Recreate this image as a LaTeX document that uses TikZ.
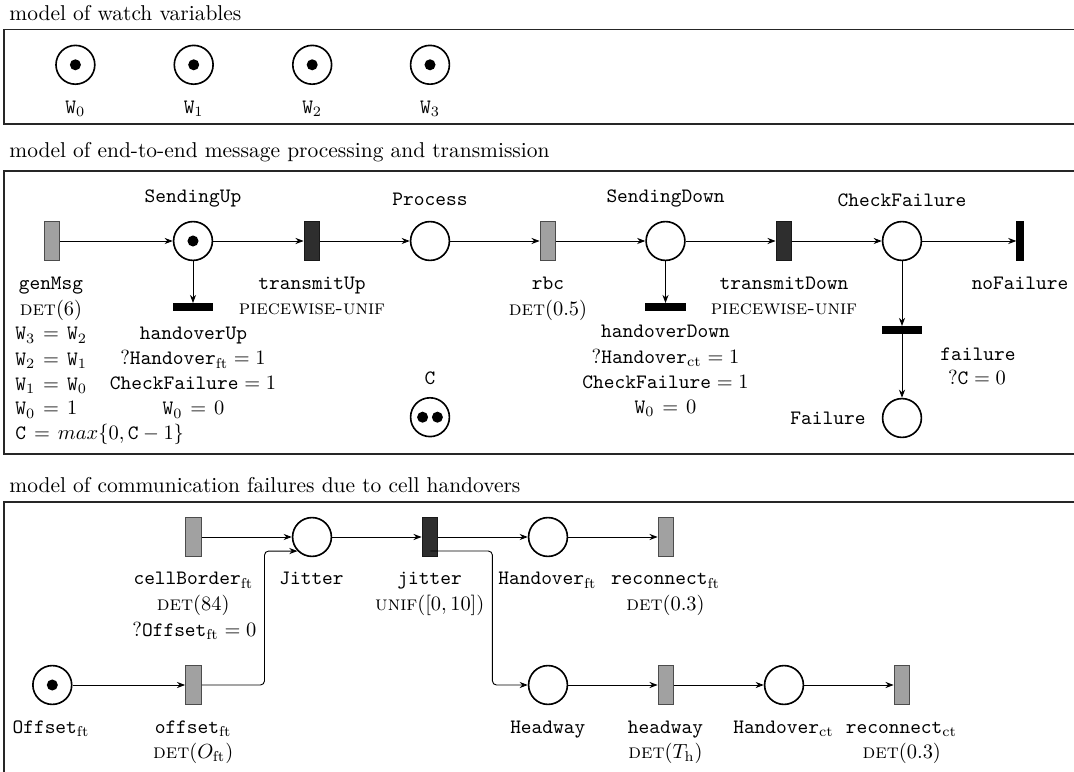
\documentclass[tikz,border=0pt]{standalone}
\usetikzlibrary{arrows.meta,calc}
\begin{document}
\begin{tikzpicture}[x=0.4895pt,y=-0.4895pt,
  place/.style={circle,draw,line width=0.8pt,minimum size=19pt,inner sep=0pt},
  tok/.style={circle,fill,inner sep=0pt,minimum size=5.4pt},
  ltrans/.style={rectangle,draw=black!70,fill=black!37,line width=0.6pt,minimum width=7.6pt,minimum height=19.3pt,inner sep=0pt},
  dtrans/.style={rectangle,draw=black!90,fill=black!82,line width=0.6pt,minimum width=7.6pt,minimum height=19.3pt,inner sep=0pt},
  itrans/.style={rectangle,draw,fill,line width=0.6pt,minimum width=3pt,minimum height=19.3pt,inner sep=0pt},
  htrans/.style={rectangle,draw,fill,line width=0.6pt,minimum width=19.3pt,minimum height=3.3pt,inner sep=0pt},
  lbl/.style={anchor=base,inner sep=0pt},
  lbw/.style={anchor=base west,inner sep=0pt},
  ttl/.style={anchor=base west,inner sep=0pt,font=\fontsize{10.5}{12.5}\selectfont},
  arr/.style={-{Stealth[length=4pt,width=3pt]},line width=0.45pt},
  frame/.style={line width=0.6pt,draw=black!85},
]
\useasboundingbox (0,0) rectangle (1074,772);

% ---------- titles and frames ----------
\node[ttl] (t1) at (9,20.5) {model of watch variables};
\node[ttl] (t2) at (9,158) {model of end-to-end message processing and transmission};
\node[ttl] (t3) at (9,492.5) {model of communication failures due to cell handovers};
\draw[frame] (1080,29.3) -- (4,29.3) -- (4,124) -- (1080,124);
\draw[frame] (1080,171) -- (4,171) -- (4,454) -- (1080,454);
\draw[frame] (1080,502) -- (4,502) -- (4,790);

% ---------- watch variables ----------
\foreach \i/\x in {0/75.4,1/193.7,2/312.2,3/430}{
  \node[place] (W\i) at (\x,64.8) {};
  \node[tok] (W\i t) at (W\i) {};
  \node[lbl] (W\i l) at (\x,113.5) {$\mathtt{W}_{\i}$};
}

% ---------- end-to-end ----------
\node[ltrans] (genMsg) at (52,241) {};
\node[place] (SendingUp) at (193,241) {};
\node[tok] (SendingUpt) at (SendingUp) {};
\node[dtrans] (transmitUp) at (312,241) {};
\node[place] (Process) at (430,241) {};
\node[ltrans] (rbc) at (548,241) {};
\node[place] (SendingDown) at (665.5,241) {};
\node[dtrans] (transmitDown) at (784,241) {};
\node[place] (CheckFailure) at (902,241) {};
\node[itrans] (noFailure) at (1020,241) {};
\node[htrans] (handoverUp) at (193,307) {};
\node[htrans] (handoverDown) at (665.5,307) {};
\node[htrans] (failure) at (902,330) {};
\node[place] (Failure) at (902,418) {};
\node[place] (C) at (430,417.2) {};
\node[tok] (Ct1) at (422.6,417.2) {};
\node[tok] (Ct2) at (437.4,417.2) {};

\draw[arr] (genMsg) -- (SendingUp);
\draw[arr] (SendingUp) -- (transmitUp);
\draw[arr] (transmitUp) -- (Process);
\draw[arr] (Process) -- (rbc);
\draw[arr] (rbc) -- (SendingDown);
\draw[arr] (SendingDown) -- (transmitDown);
\draw[arr] (transmitDown) -- (CheckFailure);
\draw[arr] (CheckFailure) -- (noFailure);
\draw[arr] (SendingUp) -- (handoverUp);
\draw[arr] (SendingDown) -- (handoverDown);
\draw[arr] (CheckFailure) -- (failure);
\draw[arr] (failure) -- (Failure);

\node[lbl] (lSendingUp) at (193,202.5) {\texttt{SendingUp}};
\node[lbl] (lProcess) at (430,206) {\texttt{Process}};
\node[lbl] (lSendingDown) at (665.5,202.3) {\texttt{SendingDown}};
\node[lbl] (lCheckFailure) at (902,206.5) {\texttt{CheckFailure}};

\node[lbl] (lgenMsg) at (51,289.3) {\texttt{genMsg}};
\node[lbl] (lgenMsgd) at (51,315.5) {\textsc{det}$(6)$};
\node[lbw] (a1) at (15,340) {$\mathtt{W}_3 \mskip2mu=\mskip2mu \mathtt{W}_2$};
\node[lbw] (a2) at (15,365.3) {$\mathtt{W}_2 \mskip2mu=\mskip2mu \mathtt{W}_1$};
\node[lbw] (a3) at (15,390.5) {$\mathtt{W}_1 \mskip2mu=\mskip2mu \mathtt{W}_0$};
\node[lbw] (a4) at (15,415) {$\mathtt{W}_0 \mskip2mu=\mskip2mu 1$};
\node[lbw] (a5) at (15,440) {$\mathtt{C} \mskip2mu=\mskip2mu max\{0, \mathtt{C}-1\}$};

\node[lbl] (ltransmitUp) at (312,289.3) {\texttt{transmitUp}};
\node[lbl] (ltransmitUpd) at (312,315) {\textsc{piecewise-unif}};
\node[lbl] (lhandoverUp) at (193.5,339.3) {\texttt{handoverUp}};
\node[lbl] (lhu2) at (193,365) {?$\mathtt{Handover}_{\mathrm{ft}} = 1$};
\node[lbl] (lhu3) at (193,390) {$\mathtt{CheckFailure} = 1$};
\node[lbl] (lhu4) at (193.5,415) {$\mathtt{W}_0 \mskip2mu=\mskip2mu 0$};

\node[lbl] (lrbc) at (548,289.3) {\texttt{rbc}};
\node[lbl] (lrbcd) at (548,315.5) {\textsc{det}$(0.5)$};
\node[lbl] (lhandoverDown) at (665.5,337.7) {\texttt{handoverDown}};
\node[lbl] (lhd2) at (665.5,363.3) {?$\mathtt{Handover}_{\mathrm{ct}} = 1$};
\node[lbl] (lhd3) at (665.5,388.3) {$\mathtt{CheckFailure} = 1$};
\node[lbl] (lhd4) at (665.5,413.3) {$\mathtt{W}_0 \mskip2mu=\mskip2mu 0$};

\node[lbl] (ltransmitDown) at (784,289.3) {\texttt{transmitDown}};
\node[lbl] (ltransmitDownd) at (784,314.5) {\textsc{piecewise-unif}};
\node[lbl] (lnoFailure) at (1020,289.3) {\texttt{noFailure}};
\node[lbl] (lfailure) at (978,360.7) {\texttt{failure}};
\node[lbl] (lfailured) at (977,385) {?$\mathtt{C} = 0$};
\node[lbl] (lFailure) at (828,424.5) {\texttt{Failure}};
\node[lbl] (lC) at (430,384.3) {\texttt{C}};

% ---------- cell handovers ----------
\node[ltrans] (cellBorder) at (193.5,537) {};
\node[place] (Jitter) at (312,537) {};
\node[dtrans] (jitter) at (430,537) {};
\node[place] (Handoverft) at (548,537) {};
\node[ltrans] (reconnectft) at (666,537) {};
\node[place] (Offsetft) at (52.3,685) {};
\node[tok] (Offsetftt) at (Offsetft) {};
\node[ltrans] (offsetft) at (193.5,685) {};
\node[place] (Headway) at (548,685) {};
\node[ltrans] (headway) at (666,685) {};
\node[place] (Handoverct) at (784,685) {};
\node[ltrans] (reconnectct) at (902,685) {};

\coordinate (c1) at (264.5,620);
\coordinate (jt) at (430.4,551);
\coordinate (c2) at (492.4,620);

\draw[arr] (cellBorder) -- (Jitter);
\draw[arr] (Jitter) -- (jitter);
\draw[arr] (jitter) -- (Handoverft);
\draw[arr] (Handoverft) -- (reconnectft);
\draw[arr] (Offsetft) -- (offsetft);
\draw[arr,rounded corners=2pt] (offsetft.east) -| (c1) |- (Jitter.224);
\draw[arr,rounded corners=2pt] (jt) -| (c2) |- (Headway.west);
\draw[arr] (Headway) -- (headway);
\draw[arr] (headway) -- (Handoverct);
\draw[arr] (Handoverct) -- (reconnectct);

\node[lbl] (lcellBorder) at (193.4,585) {\texttt{cellBorder}$_{\mathrm{ft}}$};
\node[lbl] (lcellBorderd) at (193.2,610.5) {\textsc{det}$(84)$};
\node[lbl] (lcellBordere) at (194.4,636.5) {?$\mathtt{Offset}_{\mathrm{ft}} = 0$};
\node[lbl] (lJitter) at (311.5,585) {\texttt{Jitter}};
\node[lbl] (ljitter) at (429.6,585) {\texttt{jitter}};
\node[lbl] (ljitterd) at (429.8,610.5) {\textsc{unif}$([0,10])$};
\node[lbl] (lHandoverft) at (547.5,585) {\texttt{Handover}$_{\mathrm{ft}}$};
\node[lbl] (lreconnectft) at (665.5,585) {\texttt{reconnect}$_{\mathrm{ft}}$};
\node[lbl] (lreconnectftd) at (665.5,610.5) {\textsc{det}$(0.3)$};

\node[lbl] (lOffsetft) at (51,733) {\texttt{Offset}$_{\mathrm{ft}}$};
\node[lbl] (loffsetft) at (193.2,733) {\texttt{offset}$_{\mathrm{ft}}$};
\node[lbl] (loffsetftd) at (193.2,758.5) {\textsc{det}$(O_{\mathrm{ft}})$};
\node[lbl] (lHeadway) at (547.8,733) {\texttt{Headway}};
\node[lbl] (lheadway) at (665.5,733) {\texttt{headway}};
\node[lbl] (lheadwayd) at (665.5,758.5) {\textsc{det}$(T_{\mathrm{h}})$};
\node[lbl] (lHandoverct) at (783.5,733) {\texttt{Handover}$_{\mathrm{ct}}$};
\node[lbl] (lreconnectct) at (901.5,733) {\texttt{reconnect}$_{\mathrm{ct}}$};
\node[lbl] (lreconnectctd) at (901.8,758.5) {\textsc{det}$(0.3)$};
\end{tikzpicture}
\end{document}
